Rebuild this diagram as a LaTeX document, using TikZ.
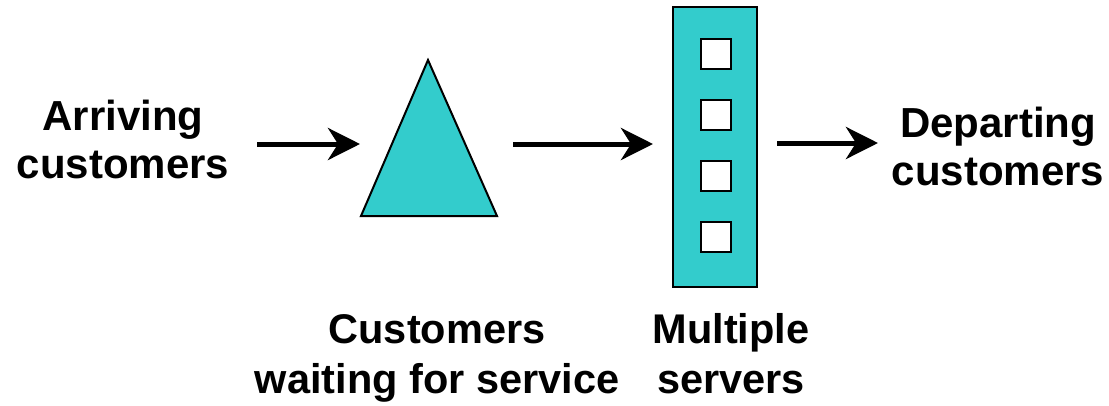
\documentclass[tikz,border=0pt]{standalone}
\usepackage{fontspec}
\setmainfont{Liberation Sans}
\usetikzlibrary{arrows.meta}
\definecolor{tealfill}{RGB}{51,204,204}
\begin{document}
\begin{tikzpicture}[x=1pt,y=-1pt,
  lbl/.style={font=\fontsize{42}{48}\selectfont\bfseries, align=center, inner sep=0pt},
  lblb/.style={font=\fontsize{41.5}{50}\selectfont\bfseries, align=center, inner sep=0pt},
  flow/.style={line width=5pt, -{Stealth[length=32pt,width=32pt,inset=10pt]}},
  tealshape/.style={fill=tealfill, draw=black, line width=2pt},
  slot/.style={fill=white, draw=black, line width=2pt, minimum size=30pt, inner sep=0pt}]
\useasboundingbox (0,0) rectangle (1109,405);
% labels
\node[lbl] (arr) at (123,139) {Arriving\\customers};
\node[lbl] (dep) at (998,146) {Departing\\customers};
\node[lblb] (wait) at (437,358.5) {Customers\\waiting for service};
\node[lblb] (multi) at (731,354) {Multiple\\servers};
% queue triangle
\draw[tealshape] (428,60) coordinate (qtop) -- (497,216) coordinate (qr) -- (361,216) coordinate (ql) -- cycle;
% server box
\node[tealshape, minimum width=84pt, minimum height=280pt, inner sep=0pt] (srv) at (715,147) {};
\foreach \yy/\nm in {53.5/s1, 114.5/s2, 175.5/s3, 236.5/s4}
  \node[slot] (\nm) at (715.5,\yy) {};
% arrows
\coordinate (a1s) at (257,144);
\coordinate (a1e) at (360,144);
\coordinate (a2s) at (513,144);
\coordinate (a2e) at (653,144);
\coordinate (a3s) at (777,143);
\coordinate (a3e) at (878,143);
\draw[flow] (a1s) -- (a1e);
\draw[flow] (a2s) -- (a2e);
\draw[flow] (a3s) -- (a3e);
\end{tikzpicture}
\end{document}
